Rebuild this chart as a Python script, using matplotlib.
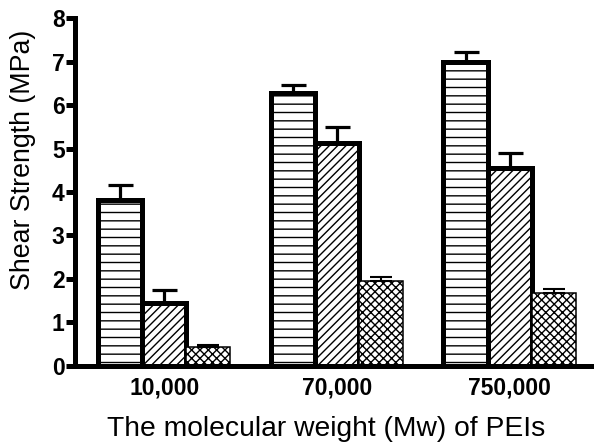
import numpy as np
import matplotlib
matplotlib.use("Agg")
import matplotlib.pyplot as plt

plt.rcParams["font.family"] = ["Liberation Sans", "DejaVu Sans"]
plt.rcParams["hatch.linewidth"] = 1.0

# dados
grupos = ["10,000", "70,000", "750,000"]
serie_a = [3.81, 6.27, 7.00]
erro_a = [0.35, 0.20, 0.22]
serie_b = [1.43, 5.12, 4.54]
erro_b = [0.32, 0.38, 0.36]
serie_c = [0.43, 1.94, 1.67]
erro_c = [0.04, 0.09, 0.09]

x = np.arange(len(grupos))
w = 0.255

fig = plt.figure(figsize=(5.94, 4.47), dpi=100)
ax = fig.add_axes([0.1263, 0.1823, 0.874, 0.7767])

# (valores, erros, hachura, espessura borda, deslocamento, capsize, espessura erro)
series = [
    (serie_a, erro_a, "--", 3.6, -w, 9, 2.3),
    (serie_b, erro_b, "////", 3.6, 0, 9, 2.3),
    (serie_c, erro_c, "xxxx", 1.1, w, 8, 1.5),
]
for vals, errs, hatch, lw, off, cs, elw in series:
    ax.bar(x + off, vals, width=w, color="white", edgecolor="black",
           hatch=hatch, linewidth=lw, zorder=2)
    ax.errorbar(x + off, vals, yerr=[np.zeros(len(vals)), errs], fmt="none",
                ecolor="black", elinewidth=elw, capsize=cs,
                capthick=elw, zorder=3)

ax.set_xlim(-0.516, 2.49)
ax.set_ylim(0, 8)
ax.set_yticks(range(0, 9))
ax.set_xticks(x)
ax.set_xticklabels(grupos, fontweight="bold", fontsize=16.5)
for t in ax.get_yticklabels():
    t.set_fontweight("bold")
    t.set_fontsize(16.5)

for s in ["top", "right"]:
    ax.spines[s].set_visible(False)
for s in ["left", "bottom"]:
    ax.spines[s].set_linewidth(3.6)
ax.tick_params(axis="y", length=6.5, width=3.6, pad=1)
ax.tick_params(axis="x", length=0, pad=8)

ax.set_ylabel("Shear Strength (MPa)", fontsize=19.3)
ax.set_xlabel("The molecular weight (Mw) of PEIs", fontsize=20.3)
ax.yaxis.set_label_coords(-0.075, 0.592)
ax.xaxis.set_label_coords(0.484, -0.145)

fig.savefig("out.png", dpi=100)
